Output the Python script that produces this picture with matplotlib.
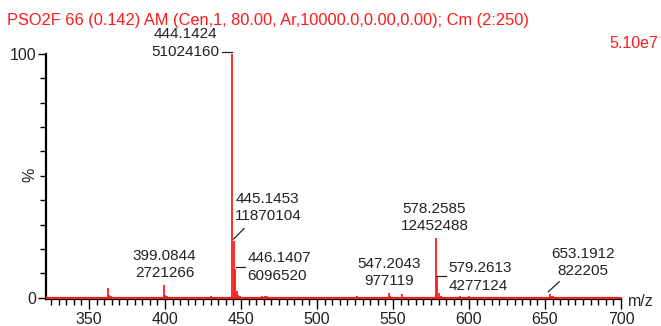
import matplotlib
matplotlib.use("Agg")
import matplotlib.pyplot as plt
from matplotlib.lines import Line2D
from matplotlib.transforms import IdentityTransform
from matplotlib.ticker import MultipleLocator, FixedLocator

plt.rcParams['font.family'] = ['Liberation Sans', 'DejaVu Sans']

# Centroided spectrum: m/z and relative intensity (%)
base_peak_intensity = 51024160
mz = [326.1, 341.0, 362.5, 363.4, 364.3, 380.2, 399.08, 400.1, 401.1, 415.2, 430.3,
      436.2, 444.1424, 445.1453, 446.1407, 447.14, 448.1, 449.2, 452.1, 463.9, 465.8,
      467.1, 482.2, 500.2, 512.3, 526.0, 533.2, 547.2043, 548.2, 555.7, 556.7,
      578.2585, 579.2613, 580.26, 581.3, 594.2, 600.1, 615.3, 631.2,
      653.1912, 654.2, 655.2, 670.3, 688.2]
intensity = [0.3, 0.3, 4.1, 1.0, 0.5, 0.3, 5.33, 1.2, 0.5, 0.3, 0.8,
             0.4, 100.0, 23.26, 11.95, 2.8, 1.0, 0.6, 0.4, 0.6, 0.8,
             0.5, 0.3, 0.3, 0.3, 0.6, 0.3, 1.92, 0.6, 1.5, 0.4,
             24.4, 8.38, 2.0, 0.7, 0.7, 0.6, 0.3, 0.3,
             1.61, 0.5, 0.8, 0.3, 0.3]

# Annotated peaks: m/z, absolute intensity
label_mz = [444.1424, 445.1453, 446.1407, 399.0844, 547.2043, 578.2585, 579.2613, 653.1912]
label_abs = [51024160, 11870104, 6096520, 2721266, 977119, 12452488, 4277124, 822205]

title_text = "PSO2F 66 (0.142) AM (Cen,1, 80.00, Ar,10000.0,0.00,0.00); Cm (2:250)"
scale_text = "5.10e7"
x_ticks = [350, 400, 450, 500, 550, 600, 650, 700]

fig = plt.figure(figsize=(6.61, 3.26), dpi=100)
ax = fig.add_axes([0.0696, 0.0816, 0.8699, 0.7528])

red = '#ff1a1a'
ink = '#222222'
ax.vlines(mz, 0, intensity, color=red, lw=1.3)
ax.axhline(0, color=red, lw=1.6, zorder=3)

ax.set_xlim(321.7, 700)
ax.set_ylim(-0.7, 100)

for s in ['top', 'right']:
    ax.spines[s].set_visible(False)
ax.spines['left'].set_linewidth(1.6)
ax.spines['bottom'].set_linewidth(1.6)

ax.xaxis.set_major_locator(FixedLocator(x_ticks))
ax.xaxis.set_minor_locator(MultipleLocator(5))
ax.tick_params(axis='x', which='major', length=7, width=1.0, labelsize=11.5,
               colors='black', labelcolor=ink, pad=2)
ax.tick_params(axis='x', which='minor', length=4, width=1.0, colors='black')

ax.yaxis.set_major_locator(FixedLocator([0, 100]))
ax.yaxis.set_minor_locator(MultipleLocator(10))
ax.set_yticklabels(['0', '100'])
ax.tick_params(axis='y', which='major', length=6, width=1.0, labelsize=11.5,
               labelcolor=ink, pad=1)
ax.tick_params(axis='y', which='minor', length=4, width=1.0)

# Peak labels: (text offset px, alignment, leader segment in offset px)
label_layout = {
    444.1424: ((-47, 11), 'center', ((-10, 2), (0, 2))),
    445.1453: ((1.5, 33.5), 'left', ((0, 2), (10.5, 12.5))),
    446.1407: ((12, 1.6), 'left', ((1, 2), (10, 2))),
    399.0844: ((1, 20.3), 'center', None),
    547.2043: ((0, 20.6), 'center', None),
    578.2585: ((-1.5, 20.8), 'center', None),
    579.2613: ((10.8, 0.4), 'left', ((-1, 1), (9, 1))),
    653.1912: ((33, 31.4), 'center', ((-1.6, 2), (9.4, 12))),
}

for m, a in zip(label_mz, label_abs):
    rel = a / base_peak_intensity * 100
    (tx, ty), ha, leader = label_layout[m]
    ax.annotate(f"{m:.4f}\n{a}", xy=(m, rel), xytext=(tx, ty),
                textcoords='offset pixels', ha=ha, va='center',
                fontsize=11, color=ink, linespacing=1.32,
                annotation_clip=False)
    if leader is not None:
        px, py = ax.transData.transform((m, rel))
        (x0, y0), (x1, y1) = leader
        fig.add_artist(Line2D([px + x0, px + x1], [py + y0, py + y1],
                              transform=IdentityTransform(), color=ink, lw=0.9))

fig.text(7 / 661, 1 - 20 / 326, title_text, color=red, fontsize=11.8,
         ha='left', va='center')
fig.text(658 / 661, 1 - 43 / 326, scale_text, color=red, fontsize=11.5,
         ha='right', va='center')
fig.text(30 / 661, 1 - 175 / 326, '%', color=ink, fontsize=11.5,
         rotation=90, ha='center', va='center')
fig.text(628 / 661, 1 - 301 / 326, 'm/z', color=ink, fontsize=11.5,
         ha='left', va='center')

fig.savefig('out.png', dpi=100)
